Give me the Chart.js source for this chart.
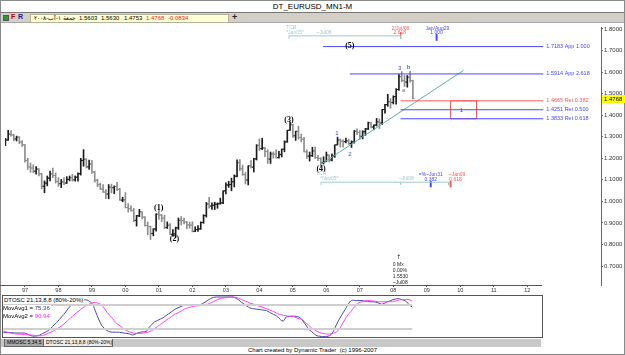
<!DOCTYPE html>
<html lang="en">
	<head>
		<meta charset="utf-8">
		<title>DT_EURUSD_MN1-M</title>
		<script src="https://cdn.jsdelivr.net/npm/chart.js"></script>
		<style>
			body { margin: 0; width: 625px; height: 355px; position: relative; overflow: hidden; background: #fff; font-family: "Liberation Sans", Arial, sans-serif; color: #000; }
			.abs { position: absolute; white-space: nowrap; }
			#frame { left: 0; top: 0; width: 623px; height: 353px; border: 1px solid #8a8a8a; }
			#title { left: 0; top: 2px; width: 625px; text-align: center; font-size: 8px; }
			#toolbar { left: 1px; top: 12px; width: 623px; height: 9px; background: #d4d0c8; border-top: 1px solid #777; border-bottom: 1px solid #a8a8a8; }
			#toolbar .ico { left: 2px; top: 2px; width: 4px; height: 4px; background: #2a9a2a; border: 1px solid #555; }
			#toolbar b { position: absolute; top: 0; font-size: 7px; }
			#quote { left: 29px; top: 1px; width: 197px; height: 7px; background: #ffffd6; border: 1px solid #b4b49a; font-size: 6px; line-height: 7px; }
			#quote span { position: absolute; top: 0; }
			#plus { left: 231px; top: -1px; font-size: 9px; font-weight: bold; color: #222; }
			#price { left: 0; top: 22px; }
			#oscbox { left: 2px; top: 295px; width: 539px; height: 41px; border: 1px solid #555; }
			#osc { position: absolute; left: 0; top: 0; }
			.leg { font-size: 6px; line-height: 7px; background: #fff; padding-right: 1px; }
			#tabs { left: 1px; top: 339px; width: 540px; height: 8px; background: #c8c8c8; }
			.tab { top: 0; height: 7px; font-size: 5px; line-height: 7px; padding: 0 2px; border: 1px solid #666; border-top: none; }
			#footer { left: 0; top: 347px; width: 625px; text-align: center; font-size: 6px; }
		</style>
	</head>
	<body>
		<div id="frame" class="abs"></div>
		<div id="title" class="abs">DT_EURUSD_MN1-M</div>
		<div id="toolbar" class="abs">
			<div class="ico abs"></div>
			<b style="left:10px;color:#c00000">F</b>
			<b style="left:17px;color:#1a1a9a">R</b>
			<div id="quote" class="abs">
				<span style="left:3px" dir="rtl">جمعة ١-آب-٢٠٠٨</span>
				<span style="left:48px">1.5603</span>
				<span style="left:70px">1.5630</span>
				<span style="left:93px">1.4753</span>
				<span style="left:115px;color:#ff2020">1.4768</span>
				<span style="left:137px;color:#ff2020">-0.0834</span>
			</div>
			<div id="plus" class="abs">+</div>
		</div>

		<canvas id="price" class="abs" width="625" height="273"></canvas>

		<div id="oscbox" class="abs">
			<canvas id="osc" width="539" height="41"></canvas>
			<div class="leg abs" style="left:1px;top:1px">DTOSC 21,13,8,8 (80%-20%)</div>
			<div class="leg abs" style="left:0;top:9px">MovAvg1 = <span style="color:#3a3a9a">75.36</span></div>
			<div class="leg abs" style="left:0;top:17px">MovAvg2 = <span style="color:#ff30ff">90.94</span></div>
		</div>

		<div id="tabs" class="abs">
			<div class="tab abs" style="left:3px;width:34px;background:#a9a9a9">MMOSC 5,34,5</div>
			<div class="tab abs" style="left:42px;width:64px;background:#ececec">DTOSC 21,13,8,8 (80%-20%)</div>
		</div>
		<div id="footer" class="abs">Chart created by Dynamic Trader&nbsp; (c) 1996-2007</div>

		<script>
			// monthly bars, Jun 1996 .. Aug 2008 (index 0 = Jun 1996)
			const opens = [
				1.268, 1.285, 1.312, 1.308, 1.290, 1.298, 1.275,
				1.262, 1.190, 1.160, 1.155, 1.140, 1.150, 1.128, 1.070, 1.085, 1.108, 1.128, 1.120,
				1.092, 1.082, 1.090, 1.085, 1.102, 1.110, 1.100, 1.112, 1.128, 1.190, 1.195, 1.160,
				1.173, 1.136, 1.098, 1.078, 1.057, 1.043, 1.034, 1.066, 1.063, 1.069, 1.056, 1.006,
				1.007, 0.971, 0.966, 0.957, 0.912, 0.933, 0.952, 0.927, 0.888, 0.883, 0.851, 0.872,
				0.940, 0.937, 0.922, 0.879, 0.889, 0.847, 0.849, 0.877, 0.912, 0.911, 0.904, 0.891,
				0.890, 0.861, 0.869, 0.872, 0.902, 0.934, 0.988, 0.978, 0.982, 0.987, 0.989, 0.993,
				1.049, 1.076, 1.078, 1.091, 1.117, 1.180, 1.151, 1.124, 1.099, 1.165, 1.159, 1.197,
				1.260, 1.245, 1.248, 1.231, 1.196, 1.220, 1.219, 1.203, 1.217, 1.242, 1.276, 1.330,
				1.356, 1.304, 1.325, 1.296, 1.288, 1.230, 1.210, 1.212, 1.234, 1.203, 1.199, 1.179,
				1.184, 1.215, 1.192, 1.211, 1.262, 1.285, 1.279, 1.277, 1.281, 1.268, 1.276, 1.325,
				1.320, 1.302, 1.323, 1.336, 1.365, 1.345, 1.354, 1.369, 1.364, 1.426, 1.449, 1.463,
				1.459, 1.486, 1.519, 1.579, 1.561, 1.554, 1.576, 1.5603
			]
			const highs = [
				1.292, 1.330, 1.328, 1.312, 1.303, 1.300, 1.282,
				1.265, 1.200, 1.178, 1.170, 1.162, 1.152, 1.130, 1.095, 1.118, 1.140, 1.155, 1.132,
				1.110, 1.102, 1.110, 1.115, 1.118, 1.125, 1.118, 1.132, 1.200, 1.240, 1.198, 1.192,
				1.190, 1.140, 1.103, 1.085, 1.078, 1.055, 1.078, 1.080, 1.072, 1.088, 1.060, 1.019,
				1.041, 0.990, 0.980, 0.967, 0.935, 0.963, 0.952, 0.929, 0.904, 0.885, 0.873, 0.942,
				0.959, 0.939, 0.936, 0.905, 0.897, 0.869, 0.880, 0.923, 0.930, 0.923, 0.907, 0.904,
				0.905, 0.882, 0.888, 0.905, 0.938, 0.995, 1.019, 0.993, 0.996, 0.993, 1.015, 1.049,
				1.086, 1.093, 1.108, 1.123, 1.193, 1.194, 1.168, 1.134, 1.165, 1.189, 1.200, 1.263,
				1.290, 1.293, 1.251, 1.239, 1.229, 1.230, 1.239, 1.232, 1.243, 1.281, 1.330, 1.367,
				1.358, 1.326, 1.349, 1.312, 1.297, 1.239, 1.229, 1.251, 1.252, 1.214, 1.203, 1.207,
				1.229, 1.215, 1.221, 1.262, 1.298, 1.290, 1.286, 1.294, 1.289, 1.281, 1.329, 1.337,
				1.329, 1.328, 1.339, 1.368, 1.368, 1.355, 1.385, 1.383, 1.427, 1.450, 1.497, 1.477,
				1.490, 1.523, 1.590, 1.602, 1.584, 1.584, 1.604, 1.5630
			]
			const lows = [
				1.258, 1.283, 1.302, 1.280, 1.280, 1.268, 1.255,
				1.182, 1.148, 1.135, 1.132, 1.126, 1.118, 1.058, 1.040, 1.072, 1.095, 1.110, 1.085,
				1.070, 1.064, 1.078, 1.083, 1.095, 1.094, 1.094, 1.094, 1.122, 1.163, 1.155, 1.148,
				1.130, 1.089, 1.068, 1.055, 1.042, 1.012, 1.012, 1.040, 1.035, 1.050, 1.004, 0.998,
				0.970, 0.950, 0.954, 0.906, 0.885, 0.929, 0.919, 0.885, 0.844, 0.823, 0.840, 0.862,
				0.916, 0.906, 0.873, 0.874, 0.845, 0.838, 0.834, 0.870, 0.890, 0.895, 0.873, 0.875,
				0.858, 0.859, 0.861, 0.870, 0.898, 0.927, 0.968, 0.963, 0.962, 0.968, 0.987, 0.989,
				1.035, 1.065, 1.049, 1.067, 1.113, 1.143, 1.121, 1.081, 1.076, 1.155, 1.136, 1.192,
				1.236, 1.240, 1.208, 1.176, 1.176, 1.200, 1.201, 1.201, 1.206, 1.230, 1.274, 1.329,
				1.297, 1.283, 1.289, 1.276, 1.230, 1.199, 1.187, 1.208, 1.199, 1.189, 1.164, 1.173,
				1.184, 1.183, 1.188, 1.204, 1.262, 1.252, 1.252, 1.271, 1.264, 1.250, 1.270, 1.310,
				1.287, 1.290, 1.306, 1.333, 1.341, 1.332, 1.350, 1.338, 1.357, 1.409, 1.441, 1.432,
				1.452, 1.451, 1.515, 1.555, 1.533, 1.530, 1.553, 1.4753
			]
			const closes = [
				1.285, 1.312, 1.308, 1.290, 1.298, 1.275, 1.262,
				1.190, 1.160, 1.155, 1.140, 1.150, 1.128, 1.070, 1.085, 1.108, 1.128, 1.120, 1.092,
				1.082, 1.090, 1.085, 1.102, 1.110, 1.100, 1.112, 1.128, 1.190, 1.195, 1.160, 1.173,
				1.136, 1.098, 1.078, 1.057, 1.043, 1.034, 1.066, 1.063, 1.069, 1.056, 1.006, 1.007,
				0.971, 0.966, 0.957, 0.912, 0.933, 0.952, 0.927, 0.888, 0.883, 0.851, 0.872, 0.940,
				0.937, 0.922, 0.879, 0.889, 0.847, 0.849, 0.877, 0.912, 0.911, 0.904, 0.891, 0.890,
				0.861, 0.869, 0.872, 0.902, 0.934, 0.988, 0.978, 0.982, 0.987, 0.989, 0.993, 1.049,
				1.076, 1.078, 1.091, 1.117, 1.180, 1.151, 1.124, 1.099, 1.165, 1.159, 1.197, 1.260,
				1.245, 1.248, 1.231, 1.196, 1.220, 1.219, 1.203, 1.217, 1.242, 1.276, 1.330, 1.356,
				1.304, 1.325, 1.296, 1.288, 1.230, 1.210, 1.212, 1.234, 1.203, 1.199, 1.179, 1.184,
				1.215, 1.192, 1.211, 1.262, 1.285, 1.279, 1.277, 1.281, 1.268, 1.276, 1.325, 1.320,
				1.302, 1.323, 1.336, 1.365, 1.345, 1.354, 1.369, 1.364, 1.426, 1.449, 1.463, 1.459,
				1.486, 1.519, 1.579, 1.561, 1.554, 1.576, 1.560, 1.4768
			]
			// DTOSC 21,13,8,8 and its second average, one value per month
			const dtosc = [
				11, 11, 11, 11, 10, 10, 10,
				10, 9, 6, 3, 2, 3, 5, 9, 12, 16, 22, 30,
				36, 44, 52, 60, 70, 78, 85, 89, 92, 94, 93, 92,
				88, 80, 62, 45, 30, 22, 16, 13, 12, 12, 12, 11,
				10, 9, 8, 5, 7, 10, 12, 13, 14, 24, 31, 38,
				41, 45, 48, 53, 58, 63, 68, 72, 75, 78, 80, 80,
				80, 80, 80, 80, 83, 87, 92, 96, 99, 100, 100, 100,
				100, 100, 100, 100, 97, 93, 87, 82, 77, 73, 71, 70,
				69, 68, 67, 66, 62, 58, 55, 50, 43, 40, 50, 51,
				52, 52, 51, 48, 40, 30, 20, 14, 8, 3, 2, 1,
				1, 2, 6, 16, 32, 45, 57, 68, 80, 90, 92, 91,
				91, 91, 90, 89, 88, 88, 87, 85, 82, 84, 88, 90,
				93, 95, 96, 94, 92, 88, 80, 75.36
			]
			const movAvg2 = [
				15, 13, 11, 9, 8, 7, 7,
				6, 6, 5, 5, 4, 3, 3, 4, 6, 9, 12, 16,
				20, 24, 29, 35, 41, 48, 54, 60, 65, 71, 76, 80,
				83, 86, 86, 84, 80, 72, 62, 54, 46, 37, 31, 26,
				20, 16, 13, 11, 9, 9, 9, 10, 11, 13, 16, 21,
				26, 31, 36, 41, 46, 51, 56, 59, 63, 67, 71, 73,
				75, 77, 78, 79, 80, 81, 82, 85, 88, 92, 95, 97,
				98, 99, 100, 100, 99, 97, 94, 91, 88, 85, 83, 80,
				78, 76, 73, 71, 68, 65, 62, 58, 56, 54, 53, 52,
				52, 50, 47, 45, 42, 36, 29, 23, 18, 14, 11, 9,
				8, 7, 8, 10, 13, 20, 32, 44, 55, 63, 72, 80,
				86, 88, 90, 91, 91, 90, 89, 88, 88, 88, 88, 88,
				89, 90, 92, 93, 93, 94, 93, 90.94
			]
			const oscLevels = [80, 20]

			const yearTicks = [7, 19, 31, 43, 55, 67, 79, 91, 103, 115, 127, 139, 151, 163, 175, 187]
			const yearLabels = ["97", "98", "99", "00", "01", "02", "03", "04", "05", "06", "07", "08", "09", "10", "11", "12"]
			const priceTicks = [0.7, 0.8, 0.9, 1.0, 1.1, 1.2, 1.3, 1.4, 1.5, 1.6, 1.7, 1.8]
			const lastPrice = 1.4768

			const fibPrices = [1.7183, 1.5914, 1.4665, 1.4251, 1.3833]
			const fibNames = ["App 1.000", "App 2.618", "Ret 0.382", "Ret 0.500", "Ret 0.618"]

			// ---- annotation placement (month index / price) ----
			const BLUE = "#4848ff", RED = "#ff5858", TEAL = "#9fcaca"
			const fibFrom = [113.8, 123.4, 141.6, 141.6, 141.6]
			const fibTo = 192.7
			const fibColor = [BLUE, BLUE, RED, BLUE, BLUE]
			const waveFont = 'bold 8px "Liberation Serif"'
			const smallFont = '6px "Liberation Sans"'
			const tinyFont = '5px "Liberation Sans"'

			const notes = [
				{ i: 54.9, p: 0.970, text: "(1)", color: "#000", font: waveFont },
				{ i: 60.6, p: 0.8275, text: "(2)", color: "#000", font: waveFont },
				{ i: 101.6, p: 1.378, text: "(3)", color: "#000", font: waveFont },
				{ i: 113.1, p: 1.149, text: "(4)", color: "#000", font: waveFont },
				{ i: 123.4, p: 1.722, text: "(5)", color: "#000", font: waveFont },
				{ i: 118.8, p: 1.314, text: "1", color: "#4040d8", font: smallFont },
				{ i: 123.4, p: 1.2175, text: "2", color: "#4040d8", font: smallFont },
				{ i: 141.3, p: 1.6165, text: "3", color: "#4040d8", font: smallFont },
				{ i: 142.7, p: 1.5156, text: "a", color: "#777", font: smallFont },
				{ i: 144.5, p: 1.621, text: "b", color: "#333", font: smallFont },
				{ i: 163.4, p: 1.4239, text: "1", color: "#4040d8", font: smallFont },
				// time cycle ratio marks
				{ i: 100.6, p: 1.8046, text: "TCR", color: TEAL, font: tinyFont, align: "left" },
				{ i: 100.6, p: 1.782, text: "*Jan05*", color: TEAL, font: tinyFont, align: "left" },
				{ i: 111.5, p: 1.782, text: "~Jul06", color: TEAL, font: tinyFont, align: "left" },
				{ i: 141.6, p: 1.8, text: "2/Jul/08", color: RED, font: tinyFont },
				{ i: 141.3, p: 1.782, text: "2.618", color: RED, font: tinyFont },
				{ i: 154.8, p: 1.8, text: "Jan/Aug29", color: BLUE, font: tinyFont },
				{ i: 154.5, p: 1.782, text: "1.000", color: BLUE, font: tinyFont },
				{ i: 111.3, p: 1.130, text: "TCR", color: TEAL, font: tinyFont, align: "left" },
				{ i: 112.8, p: 1.107, text: "*Nov05*", color: TEAL, font: tinyFont, align: "left" },
				{ i: 141.0, p: 1.107, text: "~Jul08", color: TEAL, font: tinyFont, align: "left" },
				{ i: 152.4, p: 1.126, text: "=%~Jun31", color: BLUE, font: tinyFont },
				{ i: 152.4, p: 1.103, text: "0.382", color: BLUE, font: tinyFont },
				{ i: 161.8, p: 1.126, text: "~Jan09", color: RED, font: tinyFont },
				{ i: 161.3, p: 1.103, text: "0.618", color: RED, font: tinyFont },
				// bar info under the last swing
				{ i: 140.9, p: 0.738, text: "↑", color: "#222", font: '6px "DejaVu Sans"' },
				{ i: 138.8, p: 0.706, text: "0 Mx", color: "#222", font: tinyFont, align: "left" },
				{ i: 138.8, p: 0.678, text: "0.00%", color: "#222", font: tinyFont, align: "left" },
				{ i: 138.8, p: 0.650, text: "1.5530", color: "#222", font: tinyFont, align: "left" },
				{ i: 138.8, p: 0.624, text: "~Jul08", color: "#222", font: tinyFont, align: "left" }
			]
			fibPrices.forEach((p, k) => notes.push({ i: 193.8, p: p, text: p.toFixed(4) + " " + fibNames[k], color: fibColor[k], font: '5.5px "Liberation Sans"', align: "left" }))

			const segment = (pts, color, width) => ({
				type: "line", data: pts.map(([x, y]) => ({ x: x, y: y })), borderColor: color, borderWidth: width || 1,
				pointRadius: 0, fill: false, order: 0
			})

			const idx = closes.map((c, i) => i)
			const barColor = closes.map((c, i) => c >= opens[i] ? "#1c1c1c" : "#8e8e8e")

			const priceSets = [
				{ type: "bar", data: idx.map(i => ({ x: i, y: [lows[i], highs[i]] })), backgroundColor: barColor, barThickness: 1, grouped: false, order: 3 },
				{ type: "scatter", data: idx.map(i => ({ x: i - 0.35, y: opens[i] })), pointStyle: "line", pointRadius: 0.9, pointBorderWidth: 1, pointBorderColor: barColor, order: 2 },
				{ type: "scatter", data: idx.map(i => ({ x: i + 0.35, y: closes[i] })), pointStyle: "line", pointRadius: 0.9, pointBorderWidth: 1, pointBorderColor: barColor, order: 2 }
			]
			fibPrices.forEach((p, k) => priceSets.push(segment([[fibFrom[k], p], [fibTo, p]], fibColor[k])))
			// retracement zone box
			priceSets.push(segment([[159.5, fibPrices[2]], [168.8, fibPrices[2]], [168.8, fibPrices[4]], [159.5, fibPrices[4]], [159.5, fibPrices[2]]], RED))
			// trend line from wave (4)
			priceSets.push(segment([[113, 1.1716], [164.1, 1.6073]], "#5eaeb0"))
			// time cycle brackets and ticks
			priceSets.push(segment([[101.6, 1.754], [101.6, 1.768], [141.6, 1.768], [141.6, 1.754]], TEAL))
			priceSets.push(segment([[141.6, 1.786], [141.6, 1.754]], RED))
			priceSets.push(segment([[154.5, 1.777], [154.5, 1.745]], BLUE, 2))
			priceSets.push(segment([[113.1, 1.075], [113.1, 1.089], [158.8, 1.089], [158.8, 1.075]], TEAL))
			priceSets.push(segment([[141.6, 1.089], [141.6, 1.078]], TEAL))
			priceSets.push(segment([[152.4, 1.094], [152.4, 1.066]], BLUE, 2))
			priceSets.push(segment([[159.5, 1.094], [159.5, 1.066]], RED, 2))

			const priceExtras = {
				id: "priceExtras",
				afterDatasetsDraw(chart) {
					const { ctx, chartArea, scales: { x, y } } = chart
					ctx.save()
					const base = Math.round(chartArea.bottom) + 0.5
					ctx.strokeStyle = "#555"
					ctx.lineWidth = 1
					ctx.beginPath()
					ctx.moveTo(0, base)
					ctx.lineTo(542, base)
					ctx.stroke()

					ctx.textBaseline = "middle"
					notes.forEach(n => {
						ctx.font = n.font
						ctx.fillStyle = n.color
						ctx.textAlign = n.align || "center"
						ctx.fillText(n.text, x.getPixelForValue(n.i), y.getPixelForValue(n.p))
					})

					const py = Math.round(y.getPixelForValue(lastPrice))
					ctx.fillStyle = "#ffff00"
					ctx.fillRect(chartArea.right + 1, py - 4, 24, 8)
					ctx.fillStyle = "#000"
					ctx.font = '6px "Liberation Sans"'
					ctx.textAlign = "left"
					ctx.fillText(lastPrice.toFixed(4), chartArea.right + 3, py)
					ctx.restore()
				}
			}

			Chart.defaults.font.family = '"Liberation Sans", Arial, sans-serif'

			new Chart(document.getElementById("price").getContext("2d"), {
				type: "bar",
				data: { datasets: priceSets },
				options: {
					responsive: false,
					animation: false,
					events: [],
					layout: { padding: { left: 3, top: 2, right: 0, bottom: 0 } },
					plugins: { legend: { display: false }, tooltip: { enabled: false } },
					scales: {
						x: {
							type: "linear",
							position: "bottom",
							offset: false,
							min: -0.143,
							max: 213.4,
							afterBuildTicks: s => { s.ticks = yearTicks.map(v => ({ value: v })) },
							afterFit: s => { s.height = 10 },
							ticks: { autoSkip: false, maxRotation: 0, padding: 0, font: { size: 5.5 }, color: "#333", callback: (v, i) => yearLabels[i] },
							grid: { offset: false, drawOnChartArea: false, tickLength: 2, color: "#555" },
							border: { display: false }
						},
						y: {
							position: "right",
							min: 0.6119,
							max: 1.80917,
							afterBuildTicks: s => { s.ticks = priceTicks.map(v => ({ value: v })) },
							afterFit: s => { s.width = 24 },
							ticks: { padding: 1, font: { size: 6 }, color: "#333", callback: v => v.toFixed(4) },
							grid: { drawOnChartArea: false, tickLength: 2, color: "#666" },
							border: { color: "#666" }
						}
					}
				},
				plugins: [priceExtras]
			})

			const line = (values, color, width) => ({
				data: values.map((v, i) => ({ x: i, y: v })), borderColor: color, borderWidth: width, pointRadius: 0,
				fill: false, cubicInterpolationMode: "monotone"
			})
			const last = closes.length - 1

			new Chart(document.getElementById("osc").getContext("2d"), {
				type: "line",
				data: {
					datasets: [
						{ data: [{ x: 0, y: oscLevels[0] }, { x: last, y: oscLevels[0] }], borderColor: "#cfcfcf", borderWidth: 2, pointRadius: 0 },
						{ data: [{ x: 0, y: oscLevels[1] }, { x: last, y: oscLevels[1] }], borderColor: "#cfcfcf", borderWidth: 2, pointRadius: 0 },
						line(movAvg2, "#ff40ff", 1),
						line(dtosc, "#4a4a9e", 1)
					]
				},
				options: {
					responsive: false,
					animation: false,
					events: [],
					layout: { padding: 0 },
					plugins: { legend: { display: false }, tooltip: { enabled: false } },
					scales: {
						x: { type: "linear", display: false, min: -0.1429, max: 192.357 },
						y: { display: false, min: 0, max: 102.5 }
					}
				}
			})
		</script>
	</body>
</html>
